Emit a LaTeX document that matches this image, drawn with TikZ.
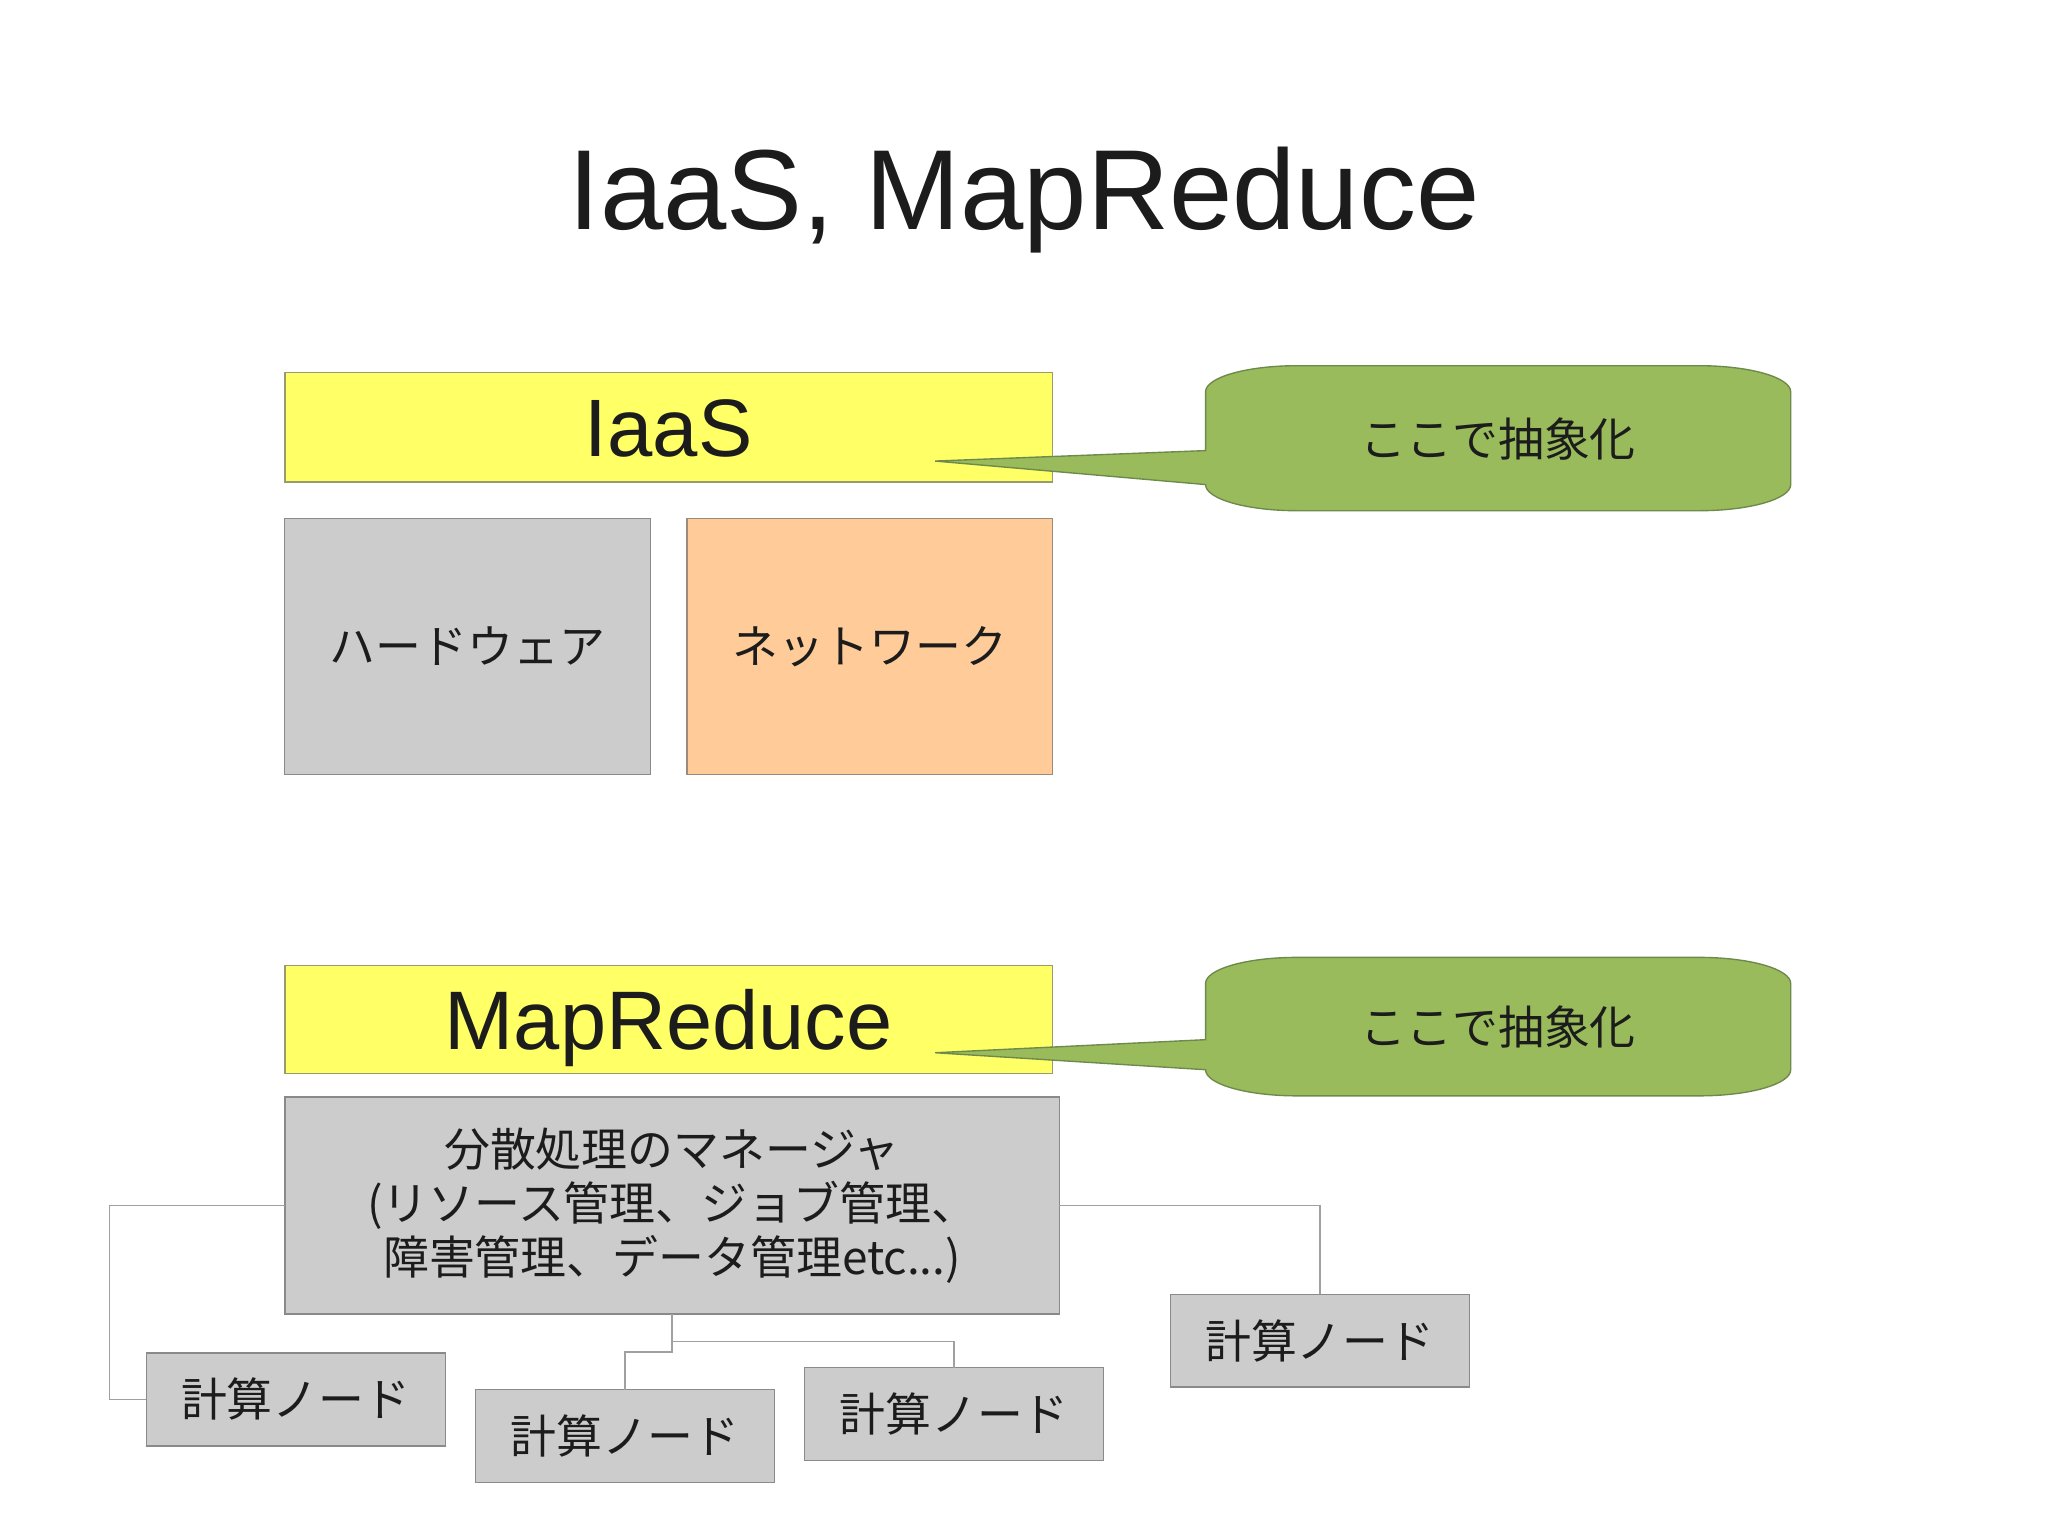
\documentclass[tikz,border=0pt]{standalone}
\usepackage{fontspec}
\setmainfont{Liberation Sans}
\newfontfamily\jp{Noto Sans CJK JP}
\definecolor{txt}{HTML}{1C1C1C}
\definecolor{yfill}{HTML}{FFFF66}
\definecolor{ydraw}{HTML}{9A9A70}
\definecolor{gfill}{HTML}{CCCCCC}
\definecolor{gdraw}{HTML}{8A8A8A}
\definecolor{pfill}{HTML}{FFCC99}
\definecolor{pdraw}{HTML}{9A8A7A}
\definecolor{cfill}{HTML}{99BB5C}
\definecolor{cdraw}{HTML}{6E8A4A}
\definecolor{wire}{HTML}{A0A0A0}
\begin{document}
\begin{tikzpicture}[x=0.02cm,y=-0.02cm,
  every node/.style={inner sep=0pt,outer sep=0pt,text=txt},
  latinbox/.style={draw=ydraw,fill=yfill,line width=0.6pt,
    minimum width=11.76cm,font=\fontsize{35.5}{40}\selectfont,
    text height=25.4pt,text depth=0pt},
  jpbox/.style={line width=0.6pt,font=\jp\fontsize{20}{23.6}\selectfont,
    text height=16pt,text depth=0.8pt},
  compnode/.style={jpbox,draw=gdraw,fill=gfill,minimum width=4.58cm,minimum height=1.42cm},
  calltext/.style={font=\jp\fontsize{20}{23.6}\selectfont,text height=16pt,text depth=0.8pt},
  callout/.style={fill=cfill,draw=cdraw,line width=0.6pt},
  wireline/.style={draw=wire,line width=0.6pt}
]
\useasboundingbox[fill=white] (0,0) rectangle (1568,1175);

% title
\node[anchor=base,font=\fontsize{49.6}{56}\selectfont] (title) at (784,176) {IaaS, MapReduce};

% IaaS part
\node[latinbox,minimum height=1.68cm] (iaas) at (512,327) {IaaS};
\node[jpbox,draw=gdraw,fill=gfill,minimum width=5.6cm,minimum height=3.92cm] (hw) at (358,495) {ハードウェア};
\node[jpbox,draw=pdraw,fill=pfill,minimum width=5.6cm,minimum height=3.92cm] (nw) at (666,495) {ネットワーク};

% callout 1
\coordinate (tip1) at (716,353);
\path[callout] (923,345) -- (923,300)
  .. controls (923,289) and (954.3,280) .. (993,280) -- (1301,280)
  .. controls (1339.7,280) and (1371,289) .. (1371,300) -- (1371,371)
  .. controls (1371,382) and (1339.7,391) .. (1301,391) -- (993,391)
  .. controls (954.3,391) and (923,382) .. (923,371) -- (tip1) -- cycle;
\node[calltext] (c1) at (1147,336) {ここで抽象化};

% MapReduce part
\node[latinbox,minimum height=1.66cm,font=\fontsize{36.2}{40}\selectfont,text height=25.9pt] (mr) at (512,780.5) {MapReduce};

% callout 2
\coordinate (tip2) at (716,806);
\path[callout] (923,796) -- (923,753)
  .. controls (923,742) and (954.3,733) .. (993,733) -- (1301,733)
  .. controls (1339.7,733) and (1371,742) .. (1371,753) -- (1371,819)
  .. controls (1371,830) and (1339.7,839) .. (1301,839) -- (993,839)
  .. controls (954.3,839) and (923,830) .. (923,819) -- (tip2) -- cycle;
\node[calltext] (c2) at (1147,786) {ここで抽象化};

% manager
\node[draw=gdraw,fill=gfill,line width=0.6pt,minimum width=11.86cm,minimum height=3.32cm,
  align=center,font=\jp\fontsize{20}{23.6}\selectfont] (mgr) at (514.5,923)
  {分散処理のマネージャ\\(リソース管理、ジョブ管理、\\障害管理、データ管理etc...)};

% compute nodes
\node[compnode] (nA) at (226.5,1071.5) {計算ノード};
\node[compnode] (nB) at (478.5,1099.5) {計算ノード};
\node[compnode] (nC) at (730.5,1082.5) {計算ノード};
\node[compnode] (nD) at (1010.5,1026.5) {計算ノード};

% connectors
\draw[wireline] (mgr.west) -- ++(-134,0) |- (nA.west);
\draw[wireline] (mgr.east) -| (nD.north);
\draw[wireline] (mgr.south) -- ++(0,21) -| (nC.north);
\draw[wireline] (mgr.south) -- ++(0,29) -| (nB.north);
\end{tikzpicture}
\end{document}
